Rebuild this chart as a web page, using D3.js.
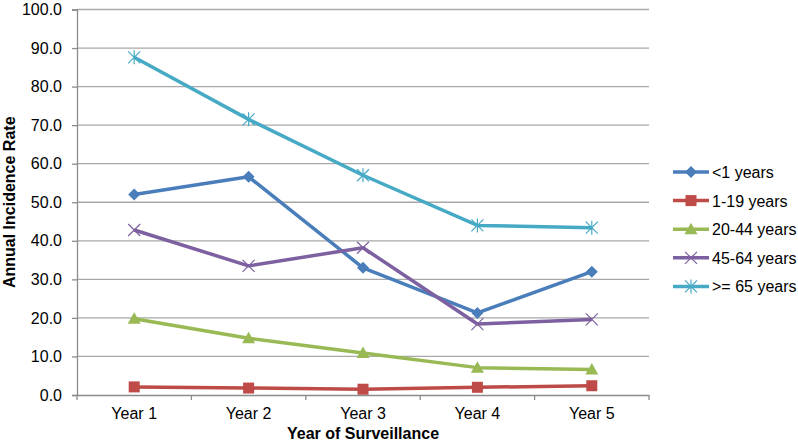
<!DOCTYPE html>
<html>
<head>
<meta charset="utf-8">
<script src="https://cdn.jsdelivr.net/npm/d3@7"></script>
<style>
  body { margin: 0; background: #fff; }
  svg { font-family: "Liberation Sans", Arial, sans-serif; }
</style>
</head>
<body>
<svg id="chart" width="798" height="445"></svg>
<script>
// data
const years = ["Year 1", "Year 2", "Year 3", "Year 4", "Year 5"];
const seriesNames = ["<1 years", "1-19 years", "20-44 years", "45-64 years", ">= 65 years"];
const under1 = [52.0, 56.6, 33.0, 21.3, 32.0];
const age1to19 = [2.1, 1.8, 1.5, 2.0, 2.4];
const age20to44 = [19.8, 14.7, 10.9, 7.1, 6.6];
const age45to64 = [42.8, 33.5, 38.2, 18.4, 19.6];
const age65plus = [87.6, 71.5, 57.0, 44.0, 43.4];
const yTicks = [0, 10, 20, 30, 40, 50, 60, 70, 80, 90, 100];

const colors = ["#4A7EBB", "#BE4B48", "#98B954", "#7D60A0", "#46AAC5"];
const markers = ["diamond", "square", "triangle", "x", "star"];
const allValues = [under1, age1to19, age20to44, age45to64, age65plus];

const svg = d3.select("#chart");
const margin = { top: 9.5, left: 77, right: 149, bottom: 50 };
const width = 798, height = 445;
const fontSize = "16px";

const x = d3.scaleBand()
  .domain(years)
  .range([margin.left, width - margin.right]);

const y = d3.scaleLinear()
  .domain([0, 100])
  .range([height - margin.bottom, margin.top]);

// gridlines
svg.append("g")
  .selectAll("line")
  .data(yTicks.filter(d => d > 0))
  .join("line")
    .attr("x1", margin.left)
    .attr("x2", width - margin.right)
    .attr("y1", d => y(d))
    .attr("y2", d => y(d))
    .attr("stroke", "#a8a8a8")
    .attr("stroke-width", 1.3);

// y axis
const yAxis = svg.append("g")
  .attr("transform", `translate(${margin.left},0)`)
  .call(d3.axisLeft(y).tickValues(yTicks).tickFormat(d3.format(".1f")).tickSizeOuter(0).tickSize(5).tickPadding(10));
yAxis.select(".domain").attr("stroke", "#8c8c8c").attr("stroke-width", 1.3);
yAxis.selectAll(".tick line").attr("stroke", "#8c8c8c").attr("stroke-width", 1.3);
yAxis.selectAll("text").attr("font-size", fontSize).attr("fill", "#000")
  .attr("font-family", "Liberation Sans, Arial, sans-serif");

// x axis
const xAxis = svg.append("g")
  .attr("transform", `translate(0,${y(0)})`)
  .call(d3.axisBottom(x).tickSize(0).tickPadding(13));
xAxis.select(".domain").attr("stroke", "#8c8c8c").attr("stroke-width", 1.3);
xAxis.selectAll("text").attr("font-size", fontSize).attr("fill", "#000")
  .attr("font-family", "Liberation Sans, Arial, sans-serif");

// x tick marks at band edges
svg.append("g")
  .selectAll("line")
  .data(years.concat(["end"]))
  .join("line")
    .attr("x1", (d, i) => i < years.length ? x(d) : x.range()[1])
    .attr("x2", (d, i) => i < years.length ? x(d) : x.range()[1])
    .attr("y1", y(0))
    .attr("y2", y(0) + 5)
    .attr("stroke", "#8c8c8c")
    .attr("stroke-width", 1.3);

// axis titles
svg.append("text")
  .attr("x", (x.range()[0] + x.range()[1]) / 2)
  .attr("y", 439)
  .attr("text-anchor", "middle")
  .attr("font-size", fontSize)
  .attr("font-weight", "bold")
  .text("Year of Surveillance");

svg.append("text")
  .attr("transform", `translate(15,${(y(0) + y(100)) / 2}) rotate(-90)`)
  .attr("text-anchor", "middle")
  .attr("font-size", fontSize)
  .attr("font-weight", "bold")
  .text("Annual Incidence Rate");

function drawMarker(g, type, color) {
  if (type === "diamond") {
    g.append("path").attr("d", "M0,-6L6,0L0,6L-6,0Z").attr("fill", color);
  } else if (type === "square") {
    g.append("rect").attr("x", -5.5).attr("y", -5.5).attr("width", 11).attr("height", 11).attr("fill", color);
  } else if (type === "triangle") {
    g.append("path").attr("d", "M0,-6.5L6.5,5L-6.5,5Z").attr("fill", color);
  } else if (type === "x") {
    g.append("path").attr("d", "M-6,-6L6,6M-6,6L6,-6").attr("stroke", color).attr("stroke-width", 1.2);
  } else if (type === "star") {
    g.append("path").attr("d", "M-6,-6L6,6M-6,6L6,-6M0,-7L0,7").attr("stroke", color).attr("stroke-width", 1.2);
  }
}

const line = d3.line()
  .x((d, i) => x(years[i]) + x.bandwidth() / 2)
  .y(d => y(d));

allValues.forEach((vals, s) => {
  svg.append("path")
    .datum(vals)
    .attr("fill", "none")
    .attr("stroke", colors[s])
    .attr("stroke-width", 3.5)
    .attr("stroke-linejoin", "round")
    .attr("d", line);

  vals.forEach((v, i) => {
    const g = svg.append("g")
      .attr("transform", `translate(${x(years[i]) + x.bandwidth() / 2},${y(v)})`);
    drawMarker(g, markers[s], colors[s]);
  });
});

// legend
const legend = svg.append("g").attr("transform", "translate(673,172)");
seriesNames.forEach((name, s) => {
  const row = legend.append("g").attr("transform", `translate(0,${s * 28.6})`);
  row.append("line")
    .attr("x1", 0).attr("x2", 36)
    .attr("stroke", colors[s])
    .attr("stroke-width", 3.5);
  const m = row.append("g").attr("transform", "translate(18,0)");
  drawMarker(m, markers[s], colors[s]);
  row.append("text")
    .attr("x", 39)
    .attr("y", 6)
    .attr("font-size", fontSize)
    .text(name);
});
</script>
</body>
</html>
